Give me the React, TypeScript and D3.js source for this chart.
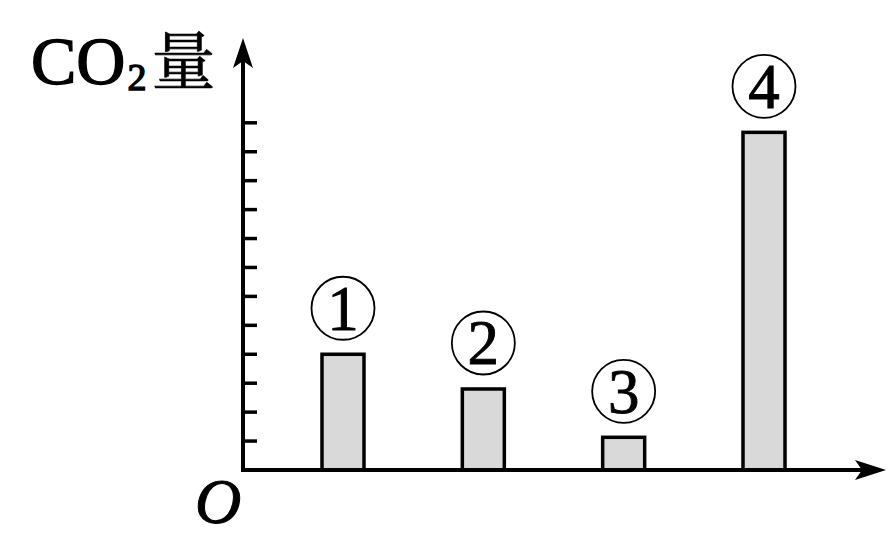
import * as d3 from 'd3';

// bar labels and CO2 amounts (units = tick steps)
const categories = ['1', '2', '3', '4'];
const co2Values = [4.0, 2.8, 1.13, 11.67];
const tickValues = d3.range(1, 13);

const width = 892;
const height = 538;
const serif = "'Liberation Serif', 'Times New Roman', serif";
const cjkSerif = "'Noto Serif CJK SC', 'Noto Sans CJK SC', serif";

const originX = 243;
const originY = 470;
const barWidth = 42;
const ink = '#000';

const x = d3.scalePoint<string>().domain(categories).range([343, 764]);
const y = d3.scaleLinear().domain([0, 12]).range([originY, 122.8]);

export default function App() {
  return (
    <svg
      width={width}
      height={height}
      style={{ position: 'absolute', left: 0, top: 0, background: '#fff' }}
    >
      {/* bars */}
      {co2Values.map((v, i) => (
        <rect
          key={'bar' + i}
          x={(x(categories[i]) as number) - barWidth / 2}
          y={y(v)}
          width={barWidth}
          height={y(0) - y(v)}
          fill="#d9d9d9"
          stroke={ink}
          strokeWidth={3.5}
        />
      ))}

      {/* circled numbers */}
      {co2Values.map((v, i) => (
        <g key={'lab' + i} transform={`translate(${x(categories[i])},${y(v) - 46})`}>
          <circle r={31.5} fill="none" stroke={ink} strokeWidth={1.8} />
          <text
            y={21.5}
            textAnchor="middle"
            fontSize={63}
            fill={ink}
            stroke={ink}
            strokeWidth={0.9}
            style={{ fontFamily: serif }}
          >
            {categories[i]}
          </text>
        </g>
      ))}

      {/* y axis */}
      <line x1={originX} x2={originX} y1={originY + 2} y2={60} stroke={ink} strokeWidth={4} />
      <path
        d={`M${originX},38 L${originX + 10},68 L${originX},61 L${originX - 10},68 Z`}
        fill={ink}
      />
      {tickValues.map(t => (
        <line
          key={'t' + t}
          x1={originX}
          x2={originX + 14}
          y1={y(t)}
          y2={y(t)}
          stroke={ink}
          strokeWidth={3.5}
        />
      ))}

      {/* x axis */}
      <line x1={originX - 2} x2={864} y1={originY} y2={originY} stroke={ink} strokeWidth={4} />
      <path
        d={`M886,${originY} L855,${originY - 10} L862,${originY} L855,${originY + 10} Z`}
        fill={ink}
      />

      {/* titles */}
      <text
        x={31}
        y={84}
        fontSize={68}
        fill={ink}
        stroke={ink}
        strokeWidth={1.4}
        style={{ fontFamily: serif }}
      >
        CO
        <tspan fontSize={38} dx={2} dy={6}>2</tspan>
        <tspan dy={-6} dx={5} fontSize={64} strokeWidth={0.6} style={{ fontFamily: cjkSerif }}>量</tspan>
      </text>
      <text
        x={195}
        y={523}
        fontSize={64}
        fontStyle="italic"
        fill={ink}
        stroke={ink}
        strokeWidth={1}
        style={{ fontFamily: serif }}
      >
        O
      </text>
    </svg>
  );
}
